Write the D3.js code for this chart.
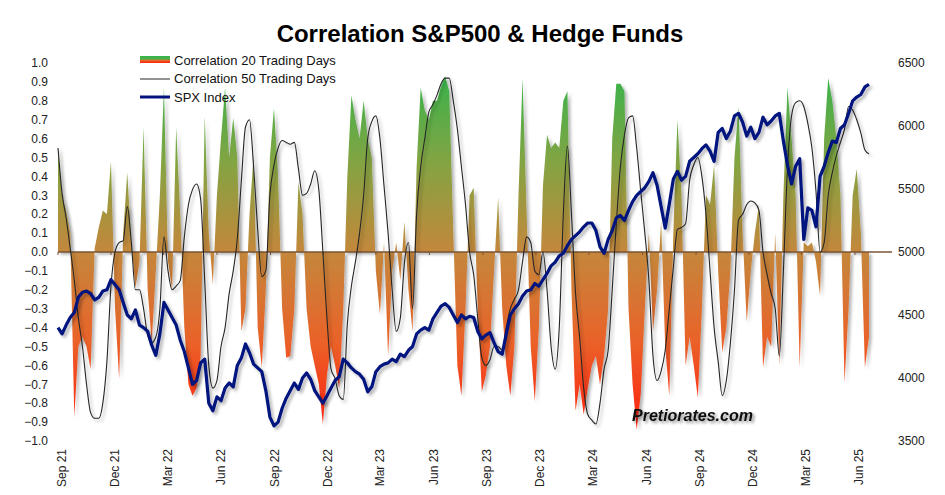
<!DOCTYPE html>
<html>
<head>
<meta charset="utf-8">
<script src="https://cdn.jsdelivr.net/npm/d3@7/dist/d3.min.js"></script>
<style>
  html, body { margin: 0; padding: 0; background: #fff; }
  svg { display: block; font-family: "Liberation Sans", Arial, sans-serif; }
</style>
</head>
<body>
<svg id="chart" width="945" height="495"></svg>
<script>
// --- data: weekly samples, first week 2021-09-01 ---
const startDate = new Date(2021, 8, 1);

const corr20 = [
  0.55, 0.3, 0.22, 0.1, -0.87, -0.5, -0.45, -0.5, -0.62, 0.02,
  0.13, 0.22, 0.2, 0.48, -0.3, -0.67, 0.1, 0.42, 0.05, -0.19,
  -0.05, 0.66, -0.2, -0.48, -0.1, 0.3, 0.87, -0.05, -0.2, 0.66,
  0.2, -0.4, -0.7, -0.76, -0.72, -0.55, 0.72, 0.1, -0.17, 0.3,
  0.6, 0.87, 0.5, 0.71, 0.5, -0.42, -0.3, 0.2, 0.51, -0.4,
  -0.61, -0.2, 0.5, 0.76, 0.4, -0.3, -0.56, -0.55, -0.3, 0.37,
  0.2, -0.3, -0.5, -0.6, -0.7, -0.91, -0.65, -0.5, -0.6, -0.72,
  -0.3, 0.4, 0.83, 0.7, 0.6, 0.8, 0.6, 0.5, -0.1, -0.33,
  0.05, -0.55, -0.1, 0.05, -0.15, 0.16, -0.2, -0.42, 0.45, 0.87,
  0.75, 0.7, 0.8, 0.8, 0.88, 0.93, 0.85, 0.1, -0.6, -0.76,
  -0.3, 0.3, 0.34, -0.3, -0.74, -0.65, -0.5, -0.1, 0.29, -0.3,
  -0.6, -0.76, -0.5, 0.3, 0.92, 0.2, -0.5, -0.79, -0.4, 0.35,
  0.62, 0.55, 0.58, 0.55, 0.8, 0.85, -0.2, -0.84, -0.7, -0.86,
  -0.72, -0.6, -0.55, -0.7, -0.55, -0.3, 0.6, 0.89, 0.89, 0.85,
  -0.3, -0.7, -0.94, -0.75, -0.3, 0.1, -0.42, -0.2, 0.16, -0.5,
  -0.76, 0.1, 0.7, 0.3, -0.6, -0.45, -0.6, -0.77, -0.3, 0.3,
  0.25, 0.46, -0.1, -0.53, -0.4, -0.1, 0.5, 0.77, 0.1, -0.37,
  -0.1, 0.1, 0.25, -0.61, -0.45, -0.5, 0.1, -0.6, 0.3, 0.87,
  0.6, 0.3, -0.61, 0.05, 0.03, 0.05, -0.05, -0.23, 0.6, 0.92,
  0.8, 0.6, 0.3, -0.69, -0.3, 0.3, 0.44, 0.1, -0.61, -0.45
];

const corr50 = [
  0.55, 0.31, 0.18, 0.02, -0.15, -0.35, -0.5, -0.7, -0.85, -0.88,
  -0.88, -0.8, -0.58, -0.18, 0.0, 0.05, 0.06, 0.24, 0.05, -0.2,
  -0.2, -0.3, -0.44, -0.48, -0.45, -0.3, 0.08, -0.1, -0.2, -0.18,
  -0.15, 0.08, 0.25, 0.33, 0.36, 0.28, -0.15, -0.6, -0.72, -0.68,
  -0.5, -0.4, -0.22, -0.1, 0.07, 0.38, 0.66, 0.7, 0.45, 0.12,
  -0.13, -0.1, 0.3, 0.46, 0.55, 0.59, 0.58, 0.57, 0.58, 0.44,
  0.3, 0.31, 0.36, 0.43, 0.33, 0.0, -0.35, -0.62, -0.67, -0.76,
  -0.78, -0.38, -0.18, -0.05, 0.1, 0.3, 0.6, 0.69, 0.72, 0.6,
  0.35, 0.1, -0.2, -0.42, -0.35, -0.06, 0.05, -0.3, 0.2, 0.45,
  0.6, 0.74, 0.78, 0.83, 0.89, 0.92, 0.92, 0.8, 0.65, 0.45,
  0.25, 0.0, -0.12, -0.35, -0.56, -0.6, -0.57, -0.5, -0.5, -0.52,
  -0.4, -0.3, -0.25, -0.2, -0.05, 0.08, 0.05, -0.1, -0.12, 0.0,
  -0.2, -0.5, -0.62, -0.4, 0.2, 0.56, 0.2, -0.22, -0.45, -0.72,
  -0.86, -0.89, -0.91, -0.8, -0.62, -0.52, -0.2, 0.15, 0.45, 0.62,
  0.71, 0.72, 0.55, 0.32, 0.1, -0.15, -0.55, -0.68, -0.63, -0.52,
  -0.3, -0.08, 0.12, 0.13, 0.15, 0.38, 0.46, 0.5, 0.4, 0.2,
  -0.1, -0.4, -0.58, -0.76, -0.68, -0.48, -0.2, 0.17, 0.2, 0.25,
  0.27, 0.26, 0.22, 0.0, -0.12, -0.22, -0.3, -0.55, -0.1, 0.44,
  0.72, 0.79, 0.8, 0.77, 0.68, 0.55, 0.32, 0.0, 0.05, 0.3,
  0.42, 0.51, 0.58, 0.65, 0.77, 0.75, 0.7, 0.63, 0.54, 0.52
];

const spx = [
  4400, 4350, 4420, 4480, 4520, 4640, 4680, 4690, 4670, 4620,
  4640, 4690, 4700, 4780, 4740, 4700, 4600, 4500, 4470, 4540,
  4420, 4400, 4370, 4260, 4180, 4350, 4600, 4540, 4480, 4420,
  4300, 4210, 4080, 3950, 3980, 4120, 4150, 3800, 3740, 3850,
  3820, 3920, 3960, 3930, 4100, 4160, 4270, 4200, 4110, 4080,
  4050, 3900, 3690, 3620, 3650, 3760, 3840, 3900, 3960, 3910,
  4000, 4040, 3990, 3900, 3850, 3800, 3860, 3920, 3980, 4010,
  4150, 4120, 4080, 4050, 4030, 3990, 3890, 3930, 4050, 4090,
  4110, 4120, 4150, 4130, 4190, 4170, 4220, 4250, 4350, 4380,
  4400, 4380, 4470, 4520, 4570, 4590, 4560, 4500, 4440, 4500,
  4470, 4490, 4480, 4370, 4310, 4340, 4360, 4280, 4210, 4190,
  4350, 4500, 4550, 4590, 4650, 4690, 4700, 4750, 4730, 4780,
  4830, 4890, 4920, 4970, 4990, 5050, 5100, 5130, 5160, 5200,
  5230, 5230, 5170, 5040, 4990, 5100, 5170, 5270, 5290, 5250,
  5330, 5400, 5450, 5480, 5510, 5560, 5630, 5530, 5360, 5190,
  5380, 5580, 5640, 5570, 5600, 5720, 5750, 5780, 5820, 5850,
  5800, 5720, 5950, 5980, 5900, 5960, 6080, 6100, 6030, 5920,
  5990, 5900, 5950, 6070, 6010, 6040, 6080, 6100, 5880, 5690,
  5540, 5680, 5740, 5100, 5350, 5330, 5200, 5600, 5680, 5790,
  5880, 5870, 5980, 6010, 6100, 6200, 6230, 6250, 6310, 6330
];

const leftTicks = [1.0, 0.9, 0.8, 0.7, 0.6, 0.5, 0.4, 0.3, 0.2, 0.1, 0.0,
  -0.1, -0.2, -0.3, -0.4, -0.5, -0.6, -0.7, -0.8, -0.9, -1.0];
const rightTicks = [6500, 6000, 5500, 5000, 4500, 4000, 3500];
const quarterLabels = ["Sep 21", "Dec 21", "Mar 22", "Jun 22", "Sep 22", "Dec 22",
  "Mar 23", "Jun 23", "Sep 23", "Dec 23", "Mar 24", "Jun 24", "Sep 24", "Dec 24",
  "Mar 25", "Jun 25"];
const legendLabels = ["Correlation 20 Trading Days", "Correlation 50 Trading Days", "SPX Index"];

const weeks = corr20.map((_, i) => d3.timeDay.offset(startDate, i * 7));
const quarters = quarterLabels.map((_, i) => d3.timeMonth.offset(startDate, i * 3));

const svg = d3.select("#chart");

const x = d3.scaleTime()
  .domain([startDate, new Date(2025, 5, 1)])
  .range([58, 855]);
const y = d3.scaleLinear().domain([-1, 1]).range([441, 63]);
const yR = d3.scaleLinear().domain([3500, 6500]).range([441, 63]);

// defs: gradient + shadow
const defs = svg.append("defs");
const grad = defs.append("linearGradient")
  .attr("id", "corrGrad")
  .attr("gradientUnits", "userSpaceOnUse")
  .attr("x1", 0).attr("x2", 0)
  .attr("y1", y(0.95)).attr("y2", y(-0.95));
[[0, "#36b34a"], [0.25, "#83a443"], [0.5, "#c4873b"], [0.75, "#ea6229"], [1, "#ff1e0e"]]
  .forEach(([o, c]) => grad.append("stop").attr("offset", o).attr("stop-color", c));

const legGrad = defs.append("linearGradient")
  .attr("id", "legGrad").attr("x1", 0).attr("x2", 0).attr("y1", 0).attr("y2", 1);
[[0, "#36b34a"], [0.45, "#4fb04a"], [0.6, "#e0702c"], [1, "#ff1e0e"]]
  .forEach(([o, c]) => legGrad.append("stop").attr("offset", o).attr("stop-color", c));

const shadow = defs.append("filter").attr("id", "shadow")
  .attr("x", "-5%").attr("y", "-5%").attr("width", "115%").attr("height", "115%");
shadow.append("feDropShadow")
  .attr("dx", 2.5).attr("dy", 2.5).attr("stdDeviation", 1.6)
  .attr("flood-color", "#000").attr("flood-opacity", 0.3);

const textShadow = defs.append("filter").attr("id", "textShadow");
textShadow.append("feDropShadow")
  .attr("dx", 2).attr("dy", 2).attr("stdDeviation", 1.5)
  .attr("flood-color", "#000").attr("flood-opacity", 0.45);

// title
svg.append("text")
  .attr("x", 480).attr("y", 42)
  .attr("text-anchor", "middle")
  .style("font-size", "24px").style("font-weight", "bold").style("fill", "#000")
  .text("Correlation S&P500 & Hedge Funds");

// corr 20 area
const area = d3.area()
  .x((d, i) => x(weeks[i]))
  .y0(y(0))
  .y1(d => y(d));

svg.append("path")
  .datum(corr20)
  .attr("d", area)
  .attr("fill", "url(#corrGrad)")
  .attr("filter", "url(#shadow)");

// zero line + quarter ticks
svg.append("line")
  .attr("x1", 58).attr("x2", 892)
  .attr("y1", y(0)).attr("y2", y(0))
  .attr("stroke", "#7a5536").attr("stroke-width", 1.3);

svg.append("g").selectAll("line")
  .data(quarters)
  .join("line")
  .attr("x1", d => x(d)).attr("x2", d => x(d))
  .attr("y1", y(0)).attr("y2", y(0) + 3)
  .attr("stroke", "#7a5536").attr("stroke-width", 1);

// corr 50 line
const line50 = d3.line()
  .x((d, i) => x(weeks[i]))
  .y(d => y(d))
  .curve(d3.curveMonotoneX);

svg.append("path")
  .datum(corr50)
  .attr("d", line50)
  .attr("fill", "none")
  .attr("stroke", "#262626").attr("stroke-width", 1.1)
  .attr("filter", "url(#shadow)");

// SPX line
const lineSpx = d3.line()
  .x((d, i) => x(weeks[i]))
  .y(d => yR(d));

svg.append("path")
  .datum(spx)
  .attr("d", lineSpx)
  .attr("fill", "none")
  .attr("stroke", "#05127e").attr("stroke-width", 3.2)
  .attr("stroke-linejoin", "round")
  .attr("filter", "url(#shadow)");

// left axis labels
svg.append("g").selectAll("text")
  .data(leftTicks)
  .join("text")
  .attr("x", 48).attr("y", d => y(d))
  .attr("dy", "0.35em")
  .attr("text-anchor", "end")
  .style("font-size", "12px").style("fill", "#222")
  .text(d => d3.format(".1f")(d));

// right axis labels
svg.append("g").selectAll("text")
  .data(rightTicks)
  .join("text")
  .attr("x", 898).attr("y", d => yR(d))
  .attr("dy", "0.35em")
  .style("font-size", "12px").style("fill", "#222")
  .text(d => d);

// x labels (rotated)
svg.append("g").selectAll("text")
  .data(quarters)
  .join("text")
  .attr("transform", d => `translate(${x(d) + 4},449) rotate(-90)`)
  .attr("dy", "0.35em")
  .attr("text-anchor", "end")
  .style("font-size", "12px").style("fill", "#222")
  .text((d, i) => quarterLabels[i]);

// legend
const legend = svg.append("g").attr("transform", "translate(140,0)");
legend.append("rect")
  .attr("x", 0).attr("y", 56).attr("width", 30).attr("height", 7)
  .attr("fill", "url(#legGrad)");
legend.append("line")
  .attr("x1", 0).attr("x2", 30).attr("y1", 79).attr("y2", 79)
  .attr("stroke", "#262626").attr("stroke-width", 1);
legend.append("line")
  .attr("x1", 0).attr("x2", 30).attr("y1", 97).attr("y2", 97)
  .attr("stroke", "#05127e").attr("stroke-width", 3);
legend.selectAll("text.leg")
  .data(legendLabels)
  .join("text")
  .attr("class", "leg")
  .attr("x", 34).attr("y", (d, i) => 60 + i * 18.5)
  .attr("dy", "0.35em")
  .style("font-size", "13px").style("fill", "#111")
  .text(d => d);

// watermark
svg.append("text")
  .attr("x", 632).attr("y", 421)
  .style("font-size", "16px").style("font-weight", "bold").style("font-style", "italic")
  .style("fill", "#111")
  .attr("filter", "url(#textShadow)")
  .text("Pretiorates.com");
</script>
</body>
</html>
